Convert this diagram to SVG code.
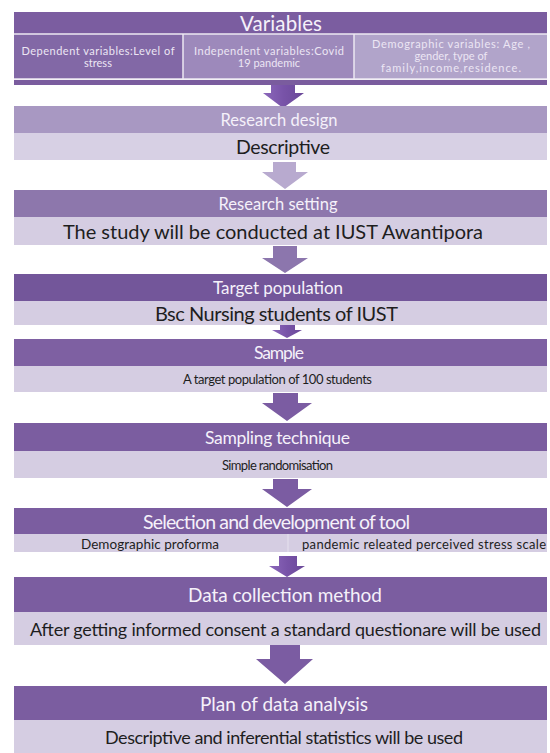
<svg xmlns="http://www.w3.org/2000/svg" width="550" height="753" viewBox="0 0 550 753">
<defs>
<style>
.hd{fill:#7b5da0}
.bd{fill:#d5cde2}
.ht{font-family:Lato,"Open Sans",sans-serif;fill:#f5f1fa;text-anchor:middle;dominant-baseline:central}
.bt{font-family:Lato,"Open Sans",sans-serif;fill:#1e1e1e;text-anchor:middle;dominant-baseline:central}
.st{font-family:Lato,"Open Sans",sans-serif;fill:#ece6f4;text-anchor:middle;font-size:11px}
.sep{stroke:#ece8f2;stroke-width:1.5}
</style>
<linearGradient id="ga" x1="0" x2="1" y1="0" y2="0">
<stop offset="0" stop-color="#8c68bb"/><stop offset="0.5" stop-color="#7853a8"/><stop offset="1" stop-color="#6a4898"/>
</linearGradient>
</defs>
<rect width="550" height="753" fill="#ffffff"/>

<g id="connectors">
<polygon points="271,80 295,80 295,93 304,93 283,108 263,93 271,93" fill="url(#ga)"/>
<polygon points="273,162 296,162 296,172 308,172 285,189 262,172 273,172" fill="#b8aacf"/>
<polygon points="273,246 297,246 297,258 308,258 285,273 262,258 273,258" fill="#8c76ad"/>
<polygon points="280,325 295,325 295,330 302,330 287,338 272,330 280,330" fill="url(#ga)"/>
<polygon points="273,393 298,393 298,403 312,403 287,421 262,403 273,403" fill="#7b5ca2"/>
<polygon points="273,479 298,479 298,489 312,489 287,507 262,489 273,489" fill="#7b5ca2"/>
<polygon points="279,556 297,556 297,566 305,566 287,577 269,566 279,566" fill="url(#ga)"/>
<polygon points="270,645 300,645 300,659 313,659 285,684 256,659 270,659" fill="#7b5ca2"/>
</g>

<g id="variables">
<rect x="14" y="12" width="533" height="22" class="hd"/>
<text x="281" y="23" class="ht" font-size="20.5" textLength="82">Variables</text>
<rect x="14" y="34" width="169" height="45" fill="#8268a6"/>
<rect x="183" y="34" width="171" height="45" fill="#9d89bb"/>
<rect x="354" y="34" width="193" height="45" fill="#b1a4ca"/>
<line x1="14" y1="34" x2="547" y2="34" class="sep"/>
<line x1="14" y1="79" x2="547" y2="79" class="sep"/>
<line x1="183" y1="34" x2="183" y2="79" class="sep"/>
<line x1="354" y1="34" x2="354" y2="79" class="sep"/>
<rect x="14" y="80" width="533" height="5" fill="#7a5c9e"/>
<text x="98" y="55" class="st" textLength="153">Dependent variables:Level of</text>
<text x="98" y="67" class="st">stress</text>
<text x="269" y="55" class="st" textLength="150">Independent variables:Covid</text>
<text x="269" y="67" class="st">19 pandemic</text>
<text x="451" y="48" class="st" textLength="158">Demographic variables: Age ,</text>
<text x="451" y="60" class="st">gender, type of</text>
<text x="451" y="72" class="st" textLength="140">family,income,residence.</text>
</g>

<g id="research-design">
<rect x="14" y="106" width="533" height="27" fill="#a898c2"/>
<text x="279" y="120" class="ht" font-size="16.5" textLength="117">Research design</text>
<rect x="14" y="133" width="533" height="27" fill="#d7d0e4"/>
<text x="283" y="146.5" class="bt" font-size="19.5" textLength="94">Descriptive</text>
</g>

<g id="research-setting">
<rect x="14" y="190" width="533" height="27" fill="#8d77ac"/>
<text x="278" y="203.5" class="ht" font-size="16.5" textLength="119">Research setting</text>
<rect x="14" y="217" width="533" height="28" class="bd"/>
<text x="273" y="231" class="bt" font-size="20" textLength="420">The study will be conducted at IUST Awantipora</text>
</g>

<g id="target-population">
<rect x="14" y="274" width="533" height="27" fill="#73569a"/>
<text x="278" y="287.5" class="ht" font-size="17" textLength="130">Target population</text>
<rect x="14" y="301" width="533" height="24" class="bd"/>
<text x="276.5" y="313" class="bt" font-size="20" textLength="243">Bsc Nursing students of IUST</text>
</g>

<g id="sample">
<rect x="14" y="339" width="533" height="27" fill="#7e60a2"/>
<text x="279" y="352.5" class="ht" font-size="17.5" textLength="50">Sample</text>
<rect x="14" y="366" width="533" height="26" class="bd"/>
<text x="277.5" y="379" class="bt" font-size="13" textLength="189">A target population of 100 students</text>
</g>

<g id="sampling-technique">
<rect x="14" y="423" width="533" height="28" class="hd"/>
<text x="277.5" y="437" class="ht" font-size="17.5" textLength="145">Sampling technique</text>
<rect x="14" y="451" width="533" height="27" class="bd"/>
<text x="277.5" y="464.5" class="bt" font-size="13" textLength="111">Simple randomisation</text>
</g>

<g id="selection-tool">
<rect x="14" y="508" width="533" height="26" class="hd"/>
<text x="276.5" y="521" class="ht" font-size="19.5" textLength="267">Selection and development of tool</text>
<rect x="14" y="534" width="533" height="18" class="bd"/>
<line x1="288" y1="534" x2="288" y2="552" stroke="#e6e1ee" stroke-width="1"/>
<text x="150" y="543.5" class="bt" font-size="13.5" textLength="138">Demographic proforma</text>
<text x="424" y="543.5" class="bt" font-size="13" textLength="244">pandemic releated perceived stress scale</text>
</g>

<g id="data-collection">
<rect x="14" y="577" width="533" height="35" class="hd"/>
<text x="285" y="594" class="ht" font-size="19" textLength="194">Data collection method</text>
<rect x="14" y="612" width="533" height="33" class="bd"/>
<text x="285.5" y="629" class="bt" font-size="18" textLength="511">After getting informed consent a standard questionare will be used</text>
</g>

<g id="plan-analysis">
<rect x="14" y="686" width="533" height="34" class="hd"/>
<text x="284" y="703" class="ht" font-size="19" textLength="168">Plan of data analysis</text>
<rect x="14" y="720" width="533" height="33" class="bd"/>
<text x="284" y="737" class="bt" font-size="18" textLength="358">Descriptive and inferential statistics will be used</text>
</g>
</svg>
